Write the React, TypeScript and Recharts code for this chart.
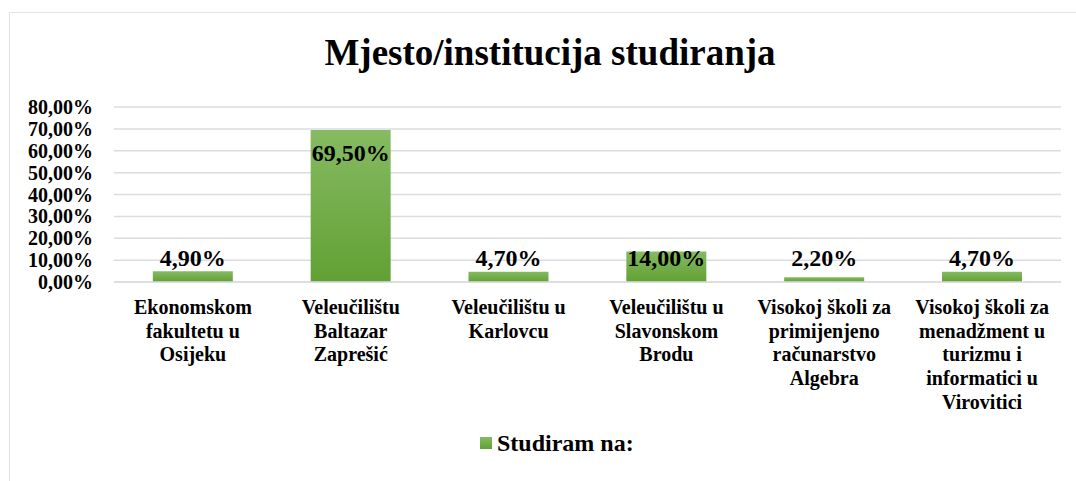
import React from "react";
import { BarChart, Bar, XAxis, YAxis, CartesianGrid, Legend, LabelList } from "recharts";

// category labels, wrapped the way the original chart wraps them
const CATEGORIES = [
  "Ekonomskom\nfakultetu u\nOsijeku",
  "Veleučilištu\nBaltazar\nZaprešić",
  "Veleučilištu u\nKarlovcu",
  "Veleučilištu u\nSlavonskom\nBrodu",
  "Visokoj školi za\nprimijenjeno\nračunarstvo\nAlgebra",
  "Visokoj školi za\nmenadžment u\nturizmu i\ninformatici u\nVirovitici",
];
const VALUES = [4.9, 69.5, 4.7, 14.0, 2.2, 4.7];
const Y_TICKS = [0, 10, 20, 30, 40, 50, 60, 70, 80];
const SERIES_NAME = "Studiram na:";
const TITLE = "Mjesto/institucija studiranja";

const FONT = '"Liberation Serif", "Times New Roman", serif';

function pct(v: number) {
  return v.toFixed(2).replace(".", ",") + "%";
}

function CategoryTick(props: any) {
  const x = props.x;
  const y = props.y;
  const lines = String(props.payload.value).split("\n");
  return (
    <text
      textAnchor="middle"
      style={{ fontFamily: FONT, fontSize: 20, fontWeight: "bold", fill: "#000" }}
    >
      {lines.map(function (line, idx) {
        return (
          <tspan key={idx} x={x} y={y + 32 + idx * 23.7}>
            {line}
          </tspan>
        );
      })}
    </text>
  );
}

function BarValue(props: any) {
  const x = Number(props.x);
  const y = Number(props.y);
  const w = Number(props.width);
  const h = Number(props.height);
  // inside the top of tall bars, just above short ones
  const baseline = Math.min(y + 31, y + h - 16);
  return (
    <text
      x={x + w / 2}
      y={baseline}
      textAnchor="middle"
      style={{ fontFamily: FONT, fontSize: 24, fontWeight: "bold", fill: "#000" }}
    >
      {pct(Number(props.value))}
    </text>
  );
}

function LegendContent() {
  return (
    <div style={styles.legend}>
      <span style={styles.legendIcon} />
      <span>{SERIES_NAME}</span>
    </div>
  );
}

export default function App() {
  var data: { name: string; value: number }[] = [];
  for (var i = 0; i < CATEGORIES.length; i++) {
    data.push({ name: CATEGORIES[i], value: VALUES[i] });
  }

  return (
    <div style={styles.page}>
      <div style={styles.frame} />
      <svg width={1076} height={100} style={{ position: "absolute", left: 0, top: 0 }}>
        <text
          x={550}
          y={65}
          textAnchor="middle"
          style={{ fontFamily: FONT, fontSize: 37, fontWeight: "bold", fill: "#000" }}
        >
          {TITLE}
        </text>
      </svg>
      <div style={{ position: "absolute", left: 0, top: 0 }}>
        <BarChart
          width={1076}
          height={481}
          data={data}
          margin={{ top: 107, right: 15, bottom: 39, left: 0 }}
          barCategoryGap="24.6%"
        >
          <defs>
            <linearGradient id="barGrad" x1="0" y1="0" x2="0" y2="1">
              <stop offset="0%" stopColor="#86bb62" />
              <stop offset="100%" stopColor="#62a034" />
            </linearGradient>
          </defs>
          <CartesianGrid vertical={false} stroke="#d9dce1" strokeWidth={1.5} />
          <XAxis
            dataKey="name"
            height={130}
            tickLine={false}
            axisLine={{ stroke: "#d9dce1", strokeWidth: 1.5 }}
            tickSize={0}
            tickMargin={0}
            tick={<CategoryTick />}
            interval={0}
          />
          <YAxis
            width={114}
            domain={[0, 80]}
            ticks={Y_TICKS}
            interval={0}
            tickFormatter={pct}
            tickLine={false}
            axisLine={false}
            tickSize={0}
            tickMargin={21}
            tick={{ fontFamily: FONT, fontSize: 20, fontWeight: "bold", fill: "#000" }}
          />
          <Legend
            verticalAlign="bottom"
            content={<LegendContent />}
            wrapperStyle={{ top: 428, left: 0, width: 1076, height: 30 }}
          />
          <Bar dataKey="value" name={SERIES_NAME} fill="url(#barGrad)" isAnimationActive={false}>
            <LabelList dataKey="value" content={<BarValue />} />
          </Bar>
        </BarChart>
      </div>
    </div>
  );
}

const styles = {
  page: {
    position: "absolute" as const,
    left: 0,
    top: 0,
    width: 1076,
    height: 481,
    background: "#fff",
    overflow: "hidden" as const,
  },
  frame: {
    position: "absolute" as const,
    left: 9,
    top: 12,
    width: 1100,
    height: 500,
    border: "1.5px solid #dfe2e6",
    boxSizing: "border-box" as const,
  },
  legend: {
    position: "absolute" as const,
    left: 480,
    top: 0,
    height: 30,
    display: "flex",
    alignItems: "center",
    whiteSpace: "nowrap" as const,
    fontFamily: FONT,
    fontSize: 24,
    fontWeight: "bold" as const,
    color: "#000",
  },
  legendIcon: {
    display: "inline-block",
    width: 12,
    height: 12,
    marginRight: 5,
    background: "linear-gradient(#86bb62, #62a034)",
  },
};
